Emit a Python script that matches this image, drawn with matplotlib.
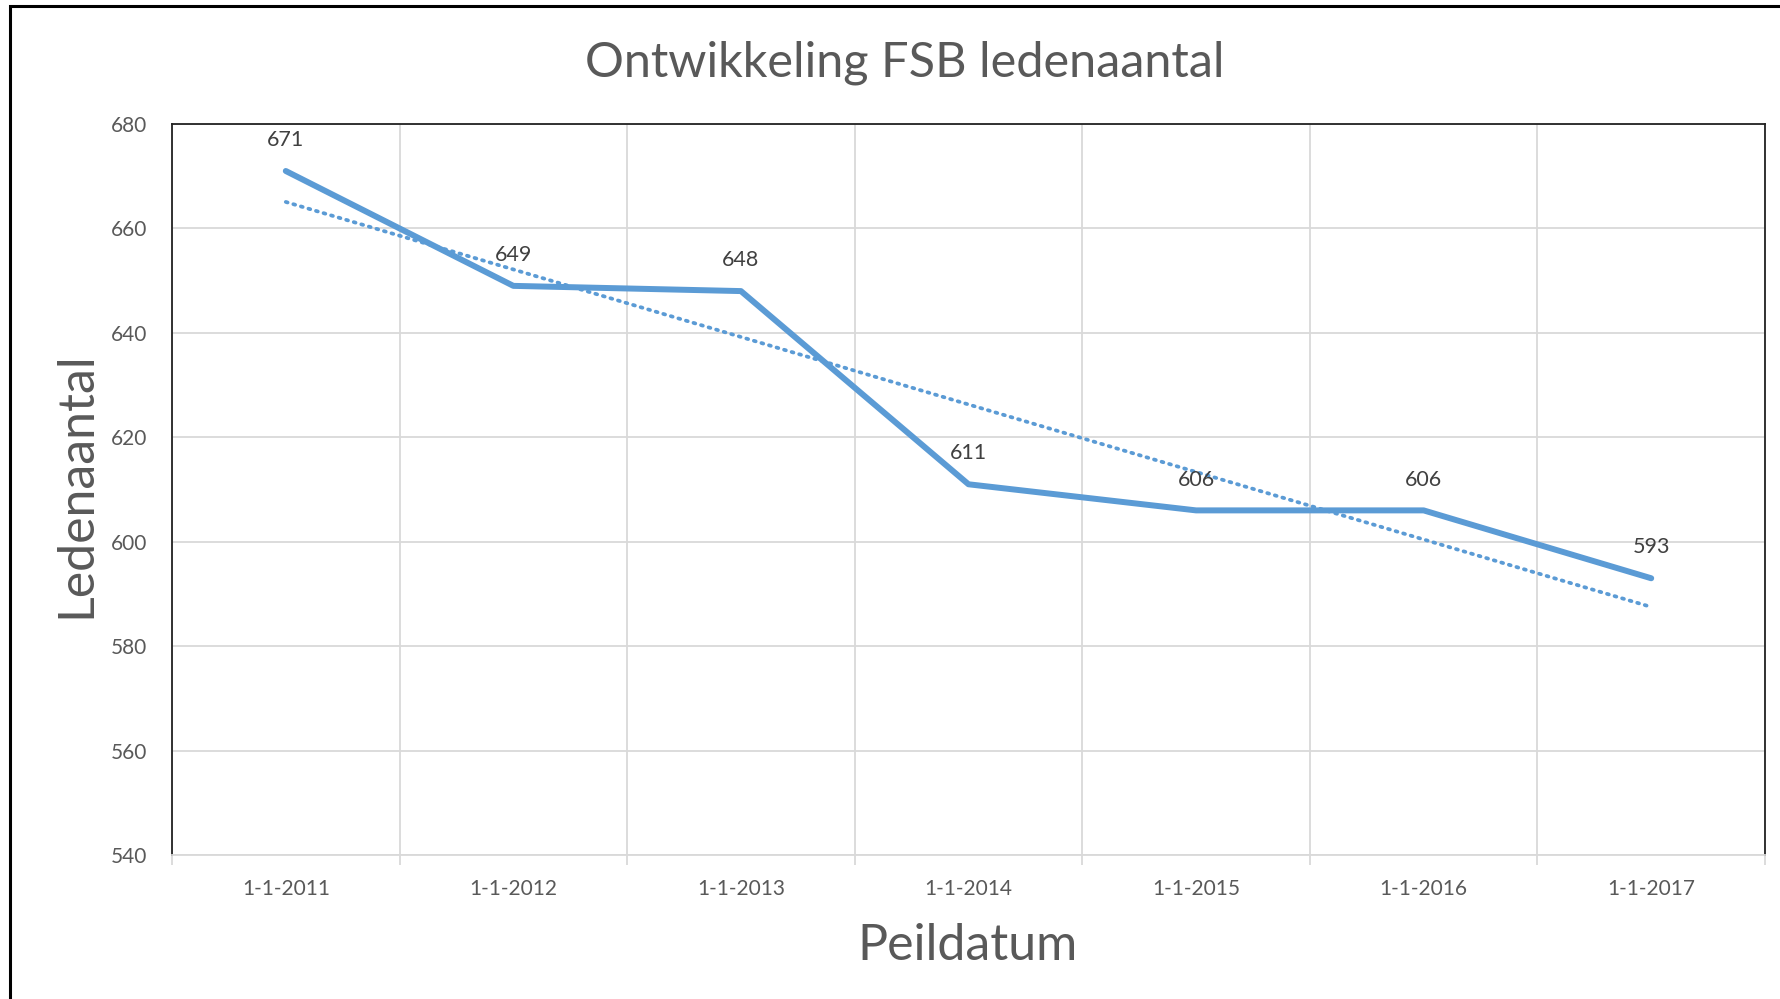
import matplotlib
matplotlib.use("Agg")
import matplotlib.pyplot as plt
import numpy as np
from matplotlib.patches import Rectangle

categories = ["1-1-2011", "1-1-2012", "1-1-2013", "1-1-2014", "1-1-2015", "1-1-2016", "1-1-2017"]
members = [671, 649, 648, 611, 606, 606, 593]
y_ticks = [540, 560, 580, 600, 620, 640, 660, 680]

plt.rcParams['font.family'] = ['Lato', 'DejaVu Sans']

W, H = 1780, 999
fig = plt.figure(figsize=(W / 100, H / 100), dpi=100)
ax = fig.add_axes([172 / W, 1 - 855 / H, (1765 - 172) / W, (855 - 124) / H])

x = np.arange(len(categories))
color = "#5B9BD5"
ax.plot(x, members, color=color, lw=4.3, solid_capstyle='round', solid_joinstyle='round', zorder=3)

# linear trendline (as Excel)
coef = np.polyfit(x, members, 1)
trend = np.polyval(coef, x)
ax.plot([x[0], x[-1]], [trend[0], trend[-1]], color=color, lw=2.7, linestyle=(0, (0.5, 1.6)),
        dash_capstyle='round', zorder=2)

for xi, yi in zip(x, members):
    ax.annotate(str(yi), (xi, yi), xytext=(0, 15), textcoords='offset points', ha='center', va='bottom',
                fontsize=15.5, color='#404040')

ax.set_xlim(-0.5, len(categories) - 0.5)
ax.set_ylim(540, 680)
ax.set_yticks(y_ticks)
ax.set_xticks(x)
ax.set_xticklabels(categories)
ax.set_xticks(np.arange(-0.5, len(categories)), minor=True)

ax.grid(axis='y', color='#D9D9D9', lw=1.3)
ax.grid(axis='x', which='minor', color='#D9D9D9', lw=1.3)
ax.set_axisbelow(True)

ax.tick_params(axis='x', which='major', length=0, pad=17, labelsize=15, labelcolor='#595959')
ax.tick_params(axis='x', which='minor', length=7, color='#D9D9D9', width=1.3)
ax.tick_params(axis='y', length=0, pad=18, labelsize=15, labelcolor='#595959')

for s in ['left', 'top', 'right']:
    ax.spines[s].set_color('#222222')
    ax.spines[s].set_linewidth(1.3)
ax.spines['bottom'].set_color('#D9D9D9')
ax.spines['bottom'].set_linewidth(1.3)

fig.text(905 / W, 1 - 63 / H, "Ontwikkeling FSB ledenaantal", ha='center', va='center',
         fontsize=35, color='#595959')
fig.text(76 / W, 1 - ((172 + 855) / 2 - 29) / H, "Ledenaantal", ha='center', va='center',
         rotation=90, fontsize=36, color='#595959')
fig.text(968 / W, 1 - 946 / H, "Peildatum", ha='center', va='center', fontsize=36, color='#595959')

# outer chart border
fig.patches.append(Rectangle((10 / W, -0.01), 1.1, 1 - 6 / H + 0.01, transform=fig.transFigure,
                             fill=False, edgecolor='black', lw=2.2))

fig.savefig("out.png", dpi=100)
